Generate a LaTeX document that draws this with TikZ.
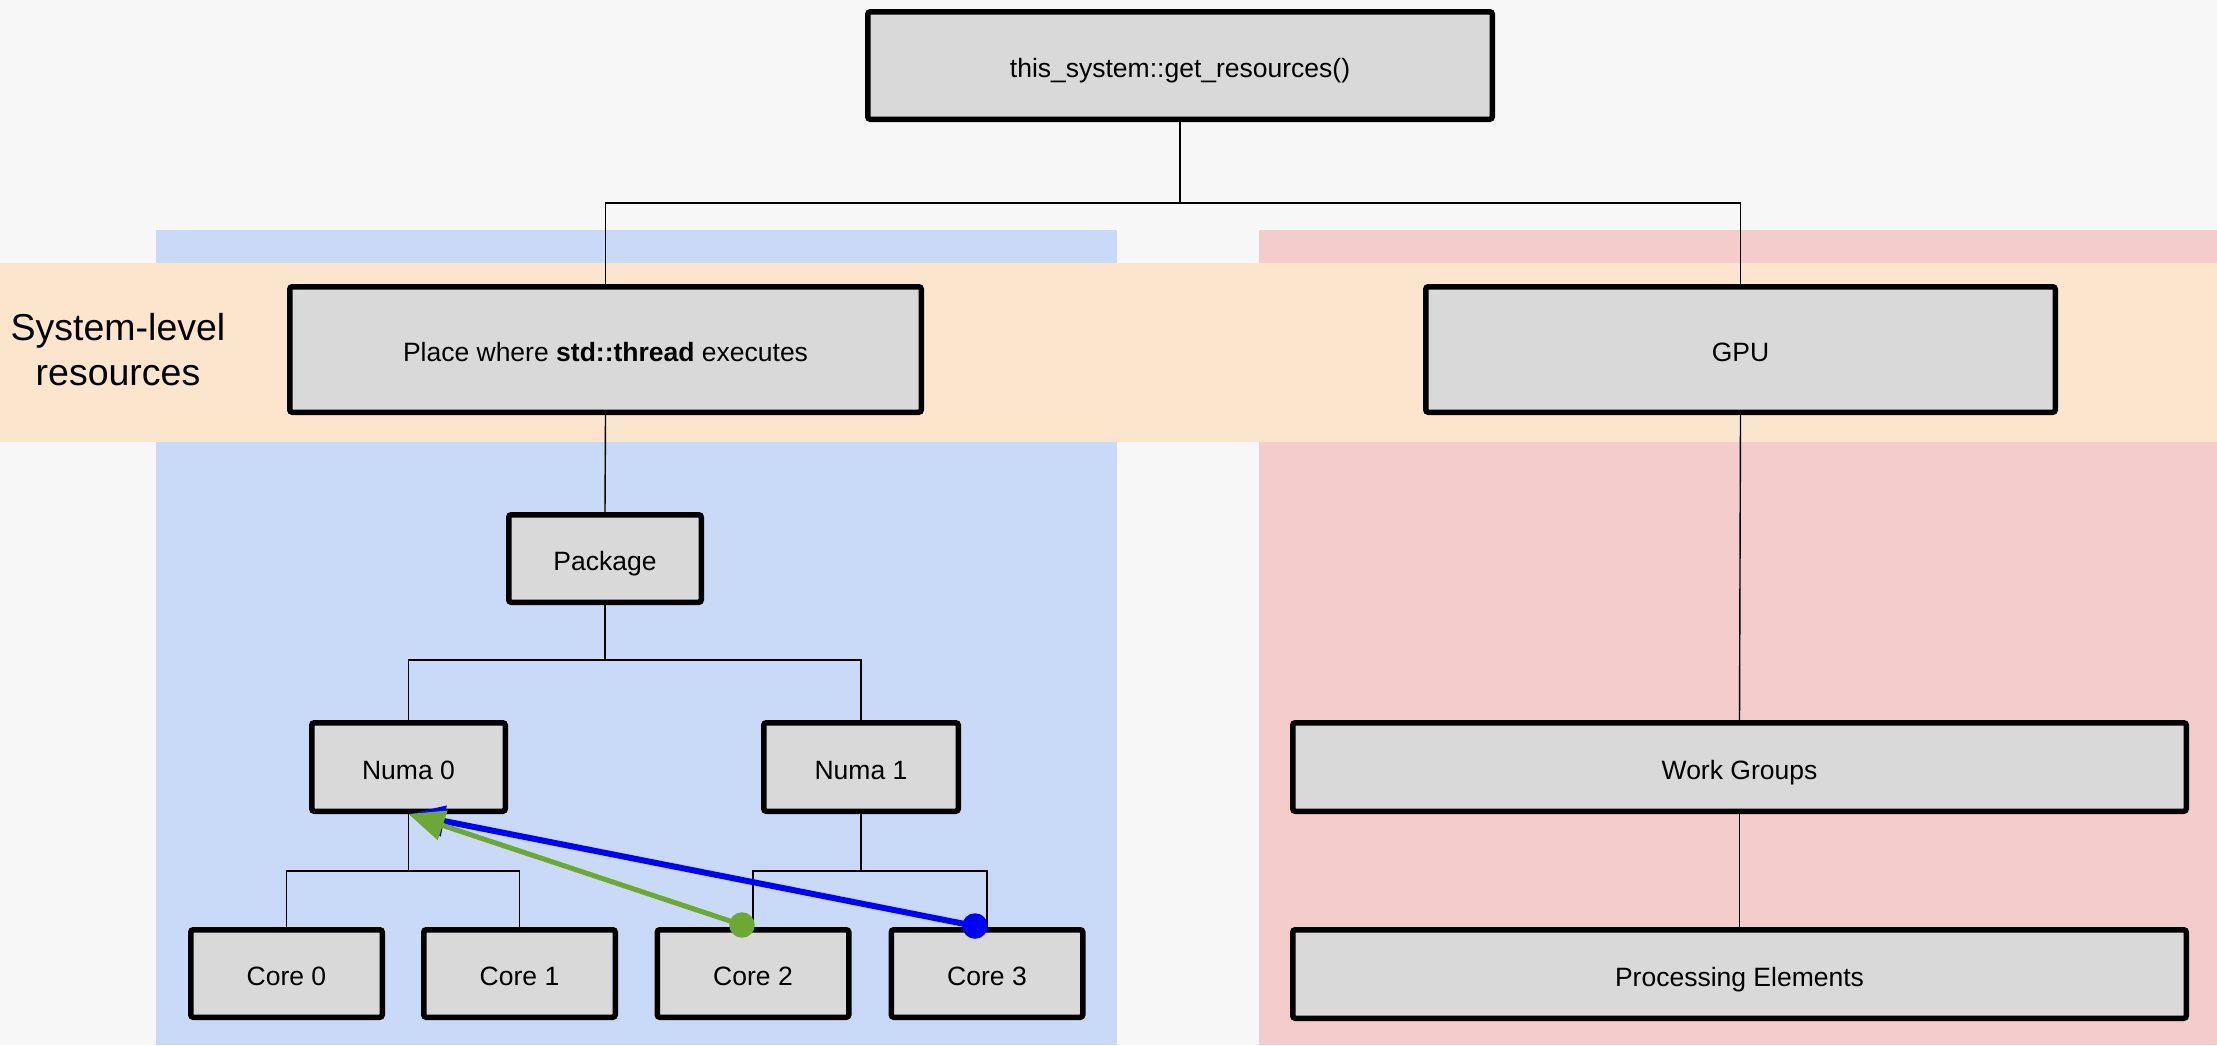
\documentclass[tikz,border=0pt]{standalone}
\usepackage{fontspec}
\setmainfont{Liberation Sans}
\usetikzlibrary{arrows.meta}
\definecolor{pagebg}{HTML}{F7F7F7}
\definecolor{cpuzone}{HTML}{C9DAF8}
\definecolor{gpuzone}{HTML}{F4CCCC}
\definecolor{sysband}{HTML}{FCE5CD}
\definecolor{boxfill}{HTML}{D9D9D9}
\definecolor{leafgreen}{HTML}{6CA832}
\definecolor{pureblue}{HTML}{0000FF}
\begin{document}
\begin{tikzpicture}[x=1pt,y=-1pt,
  box/.style={draw=black, line width=5.5pt, fill=boxfill, inner sep=0pt,
    rounded corners=2.5pt, text height=25pt, text depth=1pt,
    font=\fontsize{26.5}{32}\selectfont},
  wire/.style={draw=black, line width=1.4pt},
  hint/.style={line width=#1, -{Triangle[length=36pt,width=30pt]}},
  dot/.style={circle, draw=none, inner sep=0pt, minimum size=25.5pt}]

% canvas and coloured zones
\useasboundingbox (0,0) rectangle (2217,1045);
\fill[pagebg] (0,0) rectangle (2217,1045);
\fill[cpuzone] (156,230) rectangle (1117,1045);
\fill[gpuzone] (1259,230) rectangle (2217,1045);
\fill[sysband] (0,263) rectangle (2217,442);

% hierarchy boxes
\node[box, minimum width=624.5pt, minimum height=107.5pt] (root) at (1180,65.5) {this\_system::get\_resources()};
\node[box, minimum width=631.5pt, minimum height=125.5pt] (place) at (605.5,349.5) {Place where \textbf{std::thread} executes};
\node[box, minimum width=629.5pt, minimum height=125.5pt] (gpu) at (1740.5,349.5) {GPU};
\node[box, minimum width=192.5pt, minimum height=87.5pt] (pkg) at (605,558.5) {Package};
\node[box, minimum width=193.5pt, minimum height=88.5pt] (n0) at (408.5,767) {Numa 0};
\node[box, minimum width=194.5pt, minimum height=88.5pt] (n1) at (861,767) {Numa 1};
\node[box, minimum width=191.5pt, minimum height=87.5pt] (c0) at (286.5,973.5) {Core 0};
\node[box, minimum width=191.5pt, minimum height=87.5pt] (c1) at (519.5,973.5) {Core 1};
\node[box, minimum width=191.5pt, minimum height=87.5pt] (c2) at (753,973.5) {Core 2};
\node[box, minimum width=191.5pt, minimum height=87.5pt] (c3) at (987,973.5) {Core 3};
\node[box, minimum width=893.5pt, minimum height=88.5pt] (wg) at (1739.5,767) {Work Groups};
\node[box, minimum width=893.5pt, minimum height=88.5pt] (pe) at (1739.5,974) {Processing Elements};

\node[font=\fontsize{37.5}{45}\selectfont, align=center] (syslabel) at (118,350) {System-level\\resources};

% tree connectors
\coordinate (rootbus) at (0,203);
\coordinate (pkgbus) at (0,660);
\coordinate (numabus) at (0,871);
\draw[wire] (root.south) -- (root.south |- rootbus);
\draw[wire] (place.north) |- (gpu.north |- rootbus) -- (gpu.north);
\draw[wire] (place.south) -- (pkg.north);
\draw[wire] (pkg.south) -- (pkg.south |- pkgbus);
\draw[wire] (n0.north) |- (n1.north |- pkgbus) -- (n1.north);
\draw[wire] (n0.south) -- (n0.south |- numabus);
\draw[wire] (c0.north) |- (c1.north |- numabus) -- (c1.north);
\draw[wire] (n1.south) -- (n1.south |- numabus);
\draw[wire] (c2.north) |- (c3.north |- numabus) -- (c3.north);
\draw[wire] (gpu.south) -- (wg.north);
\draw[wire] (wg.south) -- (pe.north);

% migration hints back to Numa 0
\coordinate (bstart) at ([xshift=-12pt,yshift=1pt]c3.north);
\coordinate (gstart) at ([xshift=-11pt,yshift=2pt]c2.north);
\draw[hint=6pt, draw=pureblue, fill=pureblue] (bstart) -- (n0.south);
\draw[hint=5pt, draw=leafgreen, fill=leafgreen] (gstart) -- (n0.south);
\node[dot, fill=pureblue] (bdot) at (bstart) {};
\node[dot, fill=leafgreen] (gdot) at (gstart) {};
\end{tikzpicture}
\end{document}
